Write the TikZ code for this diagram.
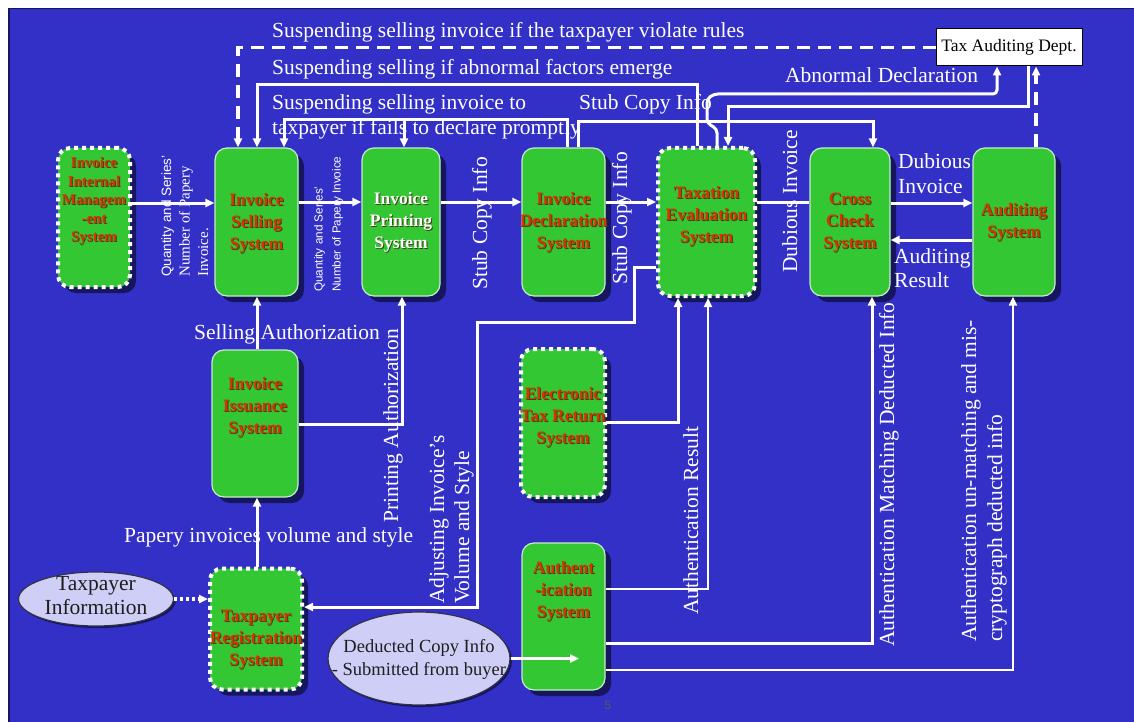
\documentclass[tikz,border=0pt]{standalone}
\usepackage{fontspec}
\setmainfont{Liberation Serif}
\setsansfont{Liberation Sans}
\usetikzlibrary{shapes.geometric,arrows.meta,shadows}
\definecolor{bgblue}{RGB}{51,48,200}
\definecolor{boxgreen}{RGB}{51,200,51}
\definecolor{shadowblue}{RGB}{22,22,95}
\definecolor{txtred}{RGB}{210,55,0}
\definecolor{txtshade}{RGB}{70,60,20}
\definecolor{lav}{RGB}{206,206,246}
\definecolor{ellborder}{RGB}{50,50,70}
\definecolor{boxedge}{RGB}{200,235,200}
\definecolor{darktxt}{RGB}{30,30,30}
\newcommand{\shtxt}[1]{\makebox[0pt][l]{\kern1pt\raisebox{-1pt}{\textcolor{txtshade}{#1}}}#1}
\newcommand{\ztxt}[2]{\raisebox{#1}[0pt][0pt]{\makebox[0pt][c]{\begin{tabular}{@{}c@{}}#2\end{tabular}}}}
\begin{document}
\begin{tikzpicture}[x=1pt,y=-1pt,
  sysbox/.style={rectangle, rounded corners=12pt, fill=boxgreen, draw=boxedge, line width=1.2pt,
    drop shadow={shadow xshift=6pt, shadow yshift=-6pt, fill=shadowblue, opacity=1},
    inner sep=0pt, text=txtred, font=\fontsize{17.5}{22}\selectfont\bfseries},
  dotbox/.style={sysbox, draw=white, line width=4pt, dash pattern=on 4pt off 4pt},
  ellnode/.style={ellipse, fill=lav, draw=ellborder, line width=1.2pt, inner sep=0pt, text=darktxt,
    drop shadow={shadow xshift=2pt, shadow yshift=-2pt, fill=shadowblue, opacity=1}},
  lbl/.style={text=white, inner sep=0pt, font=\fontsize{21.5}{25}\selectfont},
  conn/.style={draw=white, line width=3pt, -{Triangle[length=9pt,width=8pt]}},
  thinconn/.style={conn, line width=2pt},
  plainconn/.style={draw=white, line width=3pt},
  dashconn/.style={conn, line width=3.5pt, dash pattern=on 13pt off 8pt},
  dotconn/.style={conn, line width=3.5pt, dash pattern=on 3pt off 3pt}
]
\useasboundingbox (0,0) rectangle (1134,722);
\fill[white] (0,0) rectangle (1134,722);
\fill[bgblue] (8,8) rectangle (1134,722);
\draw[shadowblue, line width=1.5pt] (8.75,722) -- (8.75,8.75) -- (1134,8.75);

% ---------- system boxes ----------
\node[dotbox, minimum width=72pt, minimum height=139pt, font=\fontsize{15}{18.5}\selectfont\bfseries] (iims) at (94,217.5)
  {\ztxt{13pt}{\shtxt{Invoice}\\\shtxt{Internal}\\\shtxt{Managem}\\\shtxt{-ent}\\\shtxt{System}}};
\node[sysbox, minimum width=83pt, minimum height=148pt] (sell) at (256.5,222)
  {\ztxt{-5pt}{\shtxt{Invoice}\\\shtxt{Selling}\\\shtxt{System}}};
\node[sysbox, minimum width=78pt, minimum height=148pt, text=white] (print) at (401,222)
  {\ztxt{-4pt}{\shtxt{Invoice}\\\shtxt{Printing}\\\shtxt{System}}};
\node[sysbox, minimum width=83pt, minimum height=148pt] (decl) at (563.5,222)
  {\ztxt{-4pt}{\shtxt{Invoice}\\\shtxt{Declaration}\\\shtxt{System}}};
\node[dotbox, minimum width=97pt, minimum height=148pt] (tax) at (706.5,222)
  {\ztxt{2pt}{\shtxt{Taxation}\\\shtxt{Evaluation}\\\shtxt{System}}};
\node[sysbox, minimum width=80pt, minimum height=148pt] (cross) at (850,222)
  {\ztxt{-4pt}{\shtxt{Cross}\\\shtxt{Check}\\\shtxt{System}}};
\node[sysbox, minimum width=82pt, minimum height=148pt] (audit) at (1014,222)
  {\ztxt{-4pt}{\shtxt{Auditing}\\\shtxt{System}}};
\node[sysbox, minimum width=86pt, minimum height=147pt] (issue) at (255,423.5)
  {\ztxt{12pt}{\shtxt{Invoice}\\\shtxt{Issuance}\\\shtxt{System}}};
\node[dotbox, minimum width=84pt, minimum height=148pt] (etr) at (563,423)
  {\ztxt{2pt}{\shtxt{Electronic}\\\shtxt{Tax Return}\\\shtxt{System}}};
\node[sysbox, minimum width=83pt, minimum height=147pt] (auth) at (563.5,616.5)
  {\ztxt{21pt}{\shtxt{Authent}\\\shtxt{-ication}\\\shtxt{System}}};
\node[dotbox, minimum width=92pt, minimum height=121pt] (reg) at (256,629)
  {\ztxt{-14pt}{\shtxt{Taxpayer}\\\shtxt{Registration}\\\shtxt{System}}};

% ---------- other nodes ----------
\node[ellnode, minimum width=155pt, minimum height=54pt, font=\fontsize{21.5}{24}\selectfont] (info) at (96,599)
  {\ztxt{-4pt}{Taxpayer\\Information}};
\node[ellnode, minimum width=182pt, minimum height=93pt, font=\fontsize{18.5}{23}\selectfont] (ded) at (419,658.5)
  {\ztxt{-5pt}{Deducted Copy Info\\- Submitted from buyer}};
\node[draw=black, fill=white, line width=1pt, minimum width=146pt, minimum height=37pt, inner sep=0pt,
  font=\fontsize{17.5}{20}\selectfont] (tad) at (1009,47.5) {Tax Auditing Dept.};

% ---------- labels ----------
\node[lbl, anchor=base west] (l1) at (272,38) {Suspending selling invoice if the taxpayer violate rules};
\node[lbl, anchor=base west] (l2) at (272,75) {Suspending selling if abnormal factors emerge};
\node[lbl, anchor=base west] (l3) at (272,110)
  {\begin{tabular}[t]{@{}l@{}}Suspending selling invoice to\\taxpayer if fails to declare promptly\end{tabular}};
\node[lbl, anchor=base west] (l4) at (579,110) {Stub Copy Info};
\node[lbl, anchor=base west] (l5) at (785,83) {Abnormal Declaration};
\node[lbl, anchor=base west] (l6) at (898,168) {\begin{tabular}[t]{@{}l@{}}Dubious\\Invoice\end{tabular}};
\node[lbl, anchor=base west, font=\fontsize{21.5}{24}\selectfont] (l7) at (894,263) {\begin{tabular}[t]{@{}l@{}}Auditing\\Result\end{tabular}};
\node[lbl, anchor=base west] (l8) at (194,339) {Selling Authorization};
\node[lbl, anchor=base west] (l9) at (124,542) {Papery invoices volume and style};

\node[lbl, rotate=90, anchor=base west, font=\fontsize{15}{18.5}\selectfont] (q1) at (171,277)
  {\begin{tabular}[t]{@{}l@{}}{\sffamily\fontsize{13.5}{18.5}\selectfont Quantity and Series'}\\Number of Papery\\Invoice.\end{tabular}};
\node[lbl, rotate=90, anchor=base west, font=\sffamily\fontsize{11.7}{18}\selectfont] (q2) at (322.5,292)
  {\begin{tabular}[t]{@{}l@{}}Quantity and Series'\\Number of Papery Invoice\end{tabular}};
\node[lbl, rotate=90, anchor=base west] (s1) at (487,290) {Stub Copy Info};
\node[lbl, rotate=90, anchor=base west] (s2) at (627,285) {Stub Copy Info};
\node[lbl, rotate=90, anchor=base west] (dv) at (797,273) {Dubious Invoice};
\node[lbl, rotate=90, anchor=base west] (pa) at (398,523) {Printing Authorization};
\node[lbl, rotate=90, anchor=base west] (adj) at (444,604)
  {\begin{tabular}[t]{@{}l@{}}Adjusting Invoice’s\\Volume and Style\end{tabular}};
\node[lbl, rotate=90, anchor=base west] (ar) at (698,615) {Authentication Result};
\node[lbl, rotate=90, anchor=base west] (amd) at (894,647) {Authentication Matching Deducted Info};
\node[lbl, rotate=90, anchor=base west, font=\fontsize{21.5}{26}\selectfont] (aum) at (976,642)
  {\begin{tabular}[t]{@{}l@{}}Authentication un-matching and mis-\\cryptograph deducted info\end{tabular}};
\node[font=\sffamily\fontsize{12}{14}\selectfont, text=black!65, inner sep=0pt] (pg) at (608,705) {5};

% ---------- connectors ----------
\draw[conn] (iims.east |- 0,203) -- (sell.west |- 0,203);
\draw[conn] (sell.east |- 0,202) -- (print.west |- 0,202);
\draw[conn] (print.east |- 0,202) -- (decl.west |- 0,202);
\draw[conn] (decl.east |- 0,202) -- (tax.west |- 0,202);
\draw[plainconn] (tax.east |- 0,202) -- (cross.west |- 0,202);
\draw[conn] (cross.east |- 0,203) -- (audit.west |- 0,203);
\draw[conn] (audit.west |- 0,240) -- (cross.east |- 0,240);

\draw[conn] (issue.north -| 257,0) -- (sell.south -| 257,0);
\draw[conn] (issue.east |- 0,424) -| (print.south -| 402,0);
\draw[conn] (reg.north -| 257,0) -- (issue.south -| 257,0);
\draw[dotconn] (info.east) -- (reg.west |- info.east);
\draw[conn] (tax.west |- 0,267) -- (634,267) -- (634,322) -- (477,322) -- (477,607) -- (reg.east |- 0,607);
\draw[conn] (etr.east |- 0,422) -| (tax.south -| 678,0);
\draw[thinconn] (auth.east |- 0,589) -| (tax.south -| 708,0);
\draw[conn] (auth.east |- 0,643) -| (cross.south -| 872,0);
\draw[thinconn] (auth.east |- 0,670) -| (audit.south -| 1013,0);
\coordinate (dedtip) at (579,660);
\draw[conn] (ded.east) -- (ded.east -| dedtip);

\draw[dashconn] (tad.west) -| (sell.north -| 238,0);
\draw[dashconn] (audit.north -| 1036,0) -- (tad.south -| 1036,0);
\draw[conn] (tax.north -| 697,0) -- (697,85) -- (257,85) -- (sell.north -| 257,0);
\draw[conn] (decl.north -| 567,0) -- (567,120) -- (284,120) -- (sell.north -| 284,0);
\draw[conn] (404,120) -- (print.north -| 404,0);
\draw[conn] (decl.north -| 578,0) -- (578,122) -- (873,122) -- (cross.north -| 873,0);
\draw[conn, rounded corners=4pt] (tax.north -| 717,0) -- (717,129) -- (707,123) -- (707,99) -- (714,94) -- (997,94) -- (tad.south -| 997,0);
\draw[conn] (tad.south -| 1028,0) -- (1028,107) -- (728,107) -- (tax.north -| 728,0);
\end{tikzpicture}
\end{document}
